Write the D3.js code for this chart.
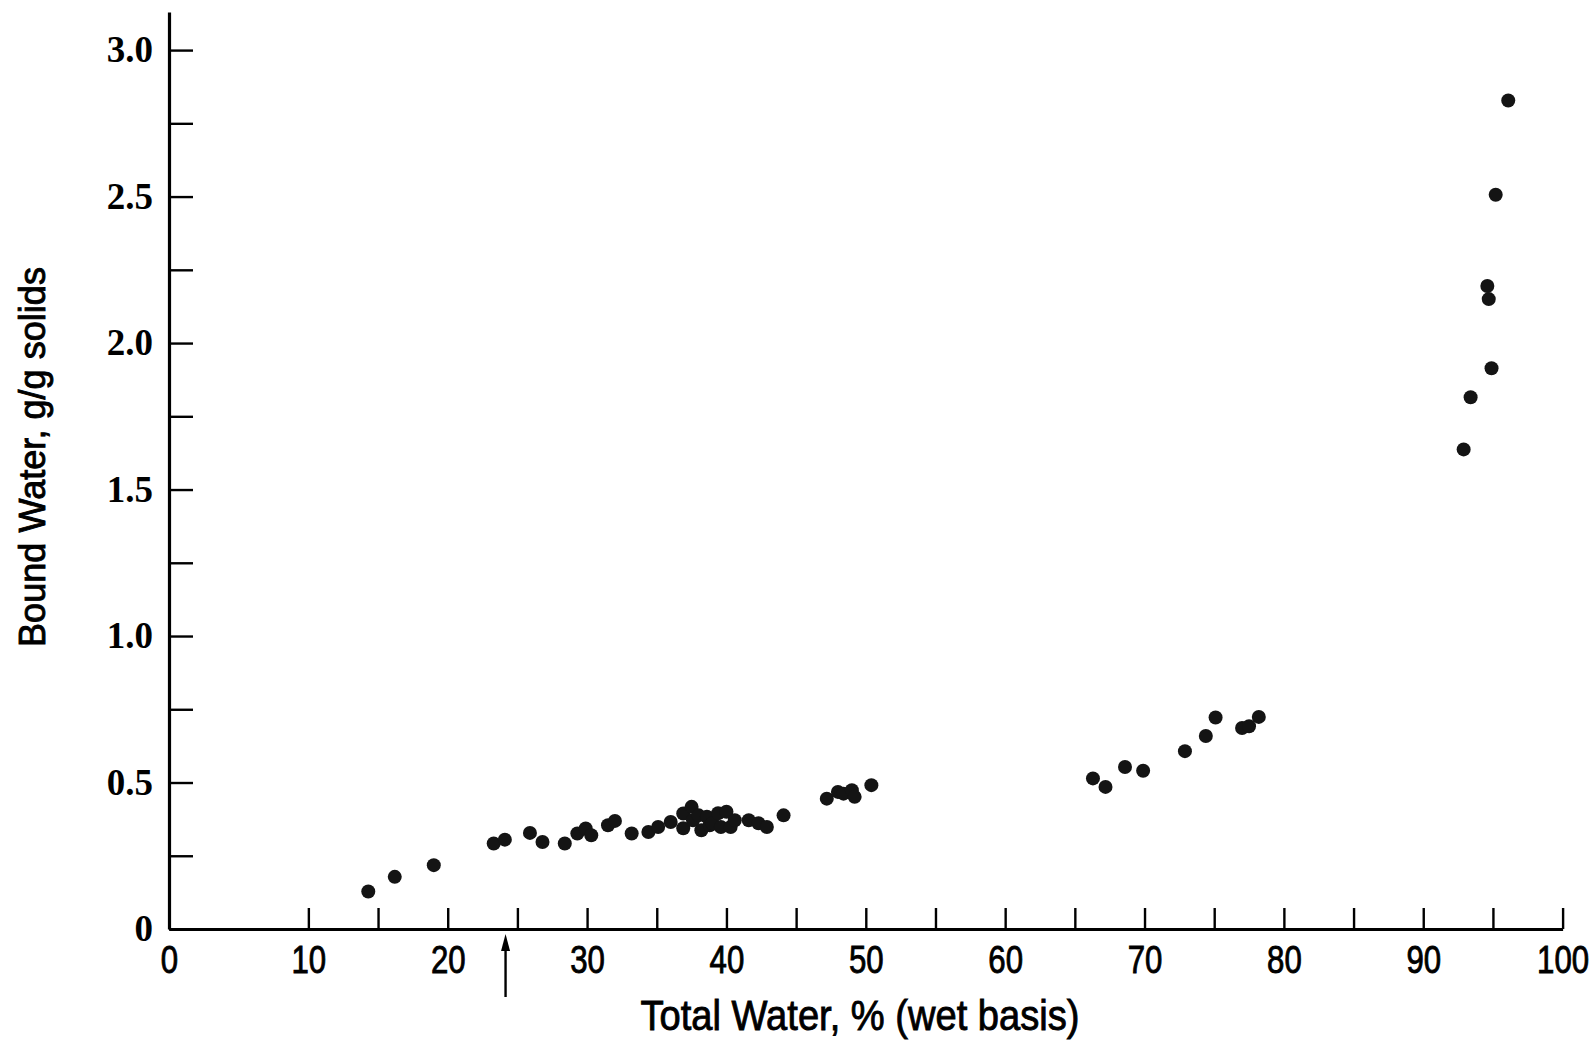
<!DOCTYPE html>
<html>
<head>
<meta charset="utf-8">
<script src="https://cdn.jsdelivr.net/npm/d3@7"></script>
<style>
  html, body { margin: 0; padding: 0; background: #fff; }
  .narrow { font-family: "Liberation Sans", Arial, sans-serif; stroke: #000; stroke-width: 0.9px; }
  .serif { font-family: "Liberation Serif", "DejaVu Serif", serif; font-weight: bold; }
</style>
</head>
<body>
<div id="chart"></div>
<script>
// total water, % (wet basis)
let totalWater = [
    14.3, 16.2, 19.0, 23.3, 24.1, 25.9, 26.8, 28.4, 29.3, 29.9,
    30.3, 31.5, 32.0, 33.2, 34.4, 35.1, 36.0, 36.9, 36.9, 37.5,
    37.6, 38.0, 38.2, 38.6, 38.8, 39.0, 39.4, 39.6, 40.0, 40.3,
    40.6, 41.6, 42.3, 42.9, 44.1, 47.2, 48.0, 48.4, 49.0, 49.2,
    50.4, 66.3, 67.2, 68.6, 69.9, 72.9, 74.4, 75.1, 77.0, 77.5,
    78.2, 92.9, 93.4, 94.9, 94.7, 94.6, 95.2, 96.1
];
// bound water, g/g solids
let boundWater = [
    0.128, 0.178, 0.218, 0.292, 0.305, 0.328, 0.297, 0.292, 0.326, 0.343,
    0.320, 0.354, 0.369, 0.326, 0.331, 0.348, 0.365, 0.344, 0.394, 0.417,
    0.371, 0.388, 0.337, 0.383, 0.354, 0.361, 0.395, 0.348, 0.400, 0.348,
    0.371, 0.371, 0.361, 0.348, 0.388, 0.445, 0.468, 0.462, 0.474, 0.451,
    0.491, 0.514, 0.485, 0.553, 0.540, 0.607, 0.659, 0.722, 0.686, 0.692,
    0.724, 1.637, 1.815, 1.914, 2.150, 2.195, 2.506, 2.828
];

let xTicks = [0, 10, 15, 20, 25, 30, 35, 40, 45, 50, 55, 60, 65, 70, 75, 80, 85, 90, 95, 100];
let yTicks = [0, 0.25, 0.5, 0.75, 1.0, 1.25, 1.5, 1.75, 2.0, 2.25, 2.5, 2.75, 3.0];
let arrowAt = 24.15;   // marked value on the x axis

let xTitle = "Total Water, % (wet basis)";
let yTitle = "Bound Water, g/g solids";

let data = totalWater.map((d, i) => ({x: d, y: boundWater[i]}));

let margin = {top: 12, right: 32, bottom: 128, left: 169};
let width = 1595 - margin.left - margin.right,
    height = 1057 - margin.top - margin.bottom;

let svg = d3.select("#chart").append("svg")
    .attr("width", 1595)
    .attr("height", 1057)
    .append("g")
    .attr("transform", "translate(" + margin.left + "," + margin.top + ")");

let x = d3.scaleLinear().domain([0, 100]).range([0, 1393.6]);
let y = d3.scaleLinear().domain([0, 3.13]).range([height, 0]);

// y axis: ticks point inwards, labels only on every 0.5
let yAxis = d3.axisLeft(y)
    .tickValues(yTicks)
    .tickSizeInner(-24)
    .tickSizeOuter(0)
    .tickPadding(16)
    .tickFormat(d => d === 0 ? "0" : (Math.abs(d * 2 - Math.round(d * 2)) < 1e-9 ? d.toFixed(1) : ""));

let gy = svg.append("g").attr("class", "y-axis axis").call(yAxis);
gy.select(".domain").attr("stroke-width", 3.2);
gy.selectAll(".tick line").attr("stroke-width", 2.4);
gy.selectAll("text")
    .attr("class", "serif")
    .attr("font-size", 37)
    .attr("fill", "#000");

// x axis
let xAxis = d3.axisBottom(x)
    .tickValues(xTicks)
    .tickSizeInner(-21)
    .tickSizeOuter(0)
    .tickPadding(16)
    .tickFormat(d => d % 10 === 0 ? d : "");

let gx = svg.append("g")
    .attr("class", "x-axis axis")
    .attr("transform", "translate(0," + height + ")")
    .call(xAxis);
gx.select(".domain").attr("stroke-width", 3.2);
gx.selectAll(".tick line").attr("stroke-width", 2.4)
    .filter(d => d === 0).remove();
gx.selectAll("text")
    .attr("class", "narrow")
    .attr("font-size", 39)
    .attr("transform", "scale(0.8,1)")
    .attr("fill", "#000");

// arrow marking a value on the x axis
let ax = x(arrowAt);
svg.append("line")
    .attr("x1", ax).attr("x2", ax)
    .attr("y1", height + 68).attr("y2", height + 14)
    .attr("stroke", "#000")
    .attr("stroke-width", 2.4);
svg.append("path")
    .attr("d", "M" + ax + "," + (height + 5) + " L" + (ax - 4.5) + "," + (height + 22) + " L" + (ax + 4.5) + "," + (height + 22) + " Z")
    .attr("fill", "#000");

// axis titles
svg.append("text")
    .attr("class", "narrow")
    .attr("x", 860 - margin.left)
    .attr("y", 1030 - margin.top)
    .attr("text-anchor", "middle")
    .attr("font-size", 43)
    .attr("textLength", 439)
    .attr("lengthAdjust", "spacingAndGlyphs")
    .attr("fill", "#000")
    .text(xTitle);

svg.append("text")
    .attr("class", "narrow")
    .attr("transform", "translate(" + (45 - margin.left) + "," + (457 - margin.top) + ") rotate(-90)")
    .attr("text-anchor", "middle")
    .attr("font-size", 37)
    .attr("textLength", 380)
    .attr("lengthAdjust", "spacingAndGlyphs")
    .attr("fill", "#000")
    .text(yTitle);

// points
svg.selectAll(".dot")
    .data(data)
    .enter().append("circle")
    .attr("class", "dot")
    .attr("cx", d => x(d.x))
    .attr("cy", d => y(d.y))
    .attr("r", 7)
    .attr("fill", "#141414");
</script>
</body>
</html>
